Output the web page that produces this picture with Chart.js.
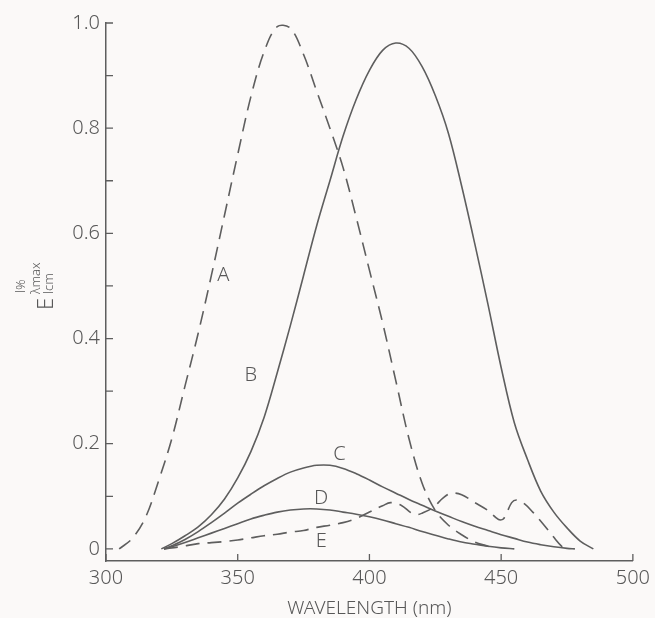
<!DOCTYPE html>
<html>
<head>
<meta charset="utf-8">
<script src="https://cdn.jsdelivr.net/npm/chart.js@4"></script>
<style>
  html, body { margin: 0; padding: 0; background: #fbf9f8; }
  #wrap { width: 655px; height: 618px; position: relative; }
</style>
</head>
<body>
<div id="wrap"><canvas id="chart"></canvas></div>
<script>
// curve A (dashed)
const wlA = [305, 310, 315, 320, 325, 330, 335, 340, 345, 350, 355, 360, 365, 370, 375, 380, 385, 390, 395, 400, 405, 410, 415, 420, 425, 430, 435, 440, 445, 448];
const valA = [0, 0.02, 0.06, 0.13, 0.21, 0.31, 0.41, 0.52, 0.635, 0.75, 0.86, 0.945, 0.993, 0.99, 0.94, 0.87, 0.80, 0.725, 0.63, 0.53, 0.43, 0.32, 0.21, 0.125, 0.073, 0.045, 0.027, 0.013, 0.005, 0];

// curve B (solid)
const wlB = [321, 325, 330, 335, 340, 345, 350, 355, 360, 365, 370, 375, 380, 385, 390, 395, 400, 405, 410, 415, 420, 425, 430, 435, 440, 445, 450, 455, 460, 465, 470, 475, 480, 485];
const valB = [0, 0.01, 0.025, 0.042, 0.065, 0.095, 0.135, 0.185, 0.25, 0.335, 0.425, 0.52, 0.615, 0.70, 0.785, 0.855, 0.91, 0.948, 0.962, 0.952, 0.917, 0.862, 0.79, 0.69, 0.58, 0.465, 0.345, 0.24, 0.17, 0.11, 0.07, 0.04, 0.015, 0];

// curve C (solid)
const wlC = [322, 325, 330, 335, 340, 345, 350, 355, 360, 365, 370, 375, 380, 385, 390, 395, 400, 405, 410, 415, 420, 425, 430, 435, 440, 445, 450, 455, 460, 465, 470, 475, 478];
const valC = [0, 0.006, 0.018, 0.033, 0.05, 0.068, 0.087, 0.104, 0.12, 0.134, 0.146, 0.154, 0.159, 0.159, 0.153, 0.143, 0.131, 0.118, 0.106, 0.094, 0.083, 0.072, 0.062, 0.052, 0.043, 0.035, 0.027, 0.02, 0.013, 0.008, 0.004, 0.001, 0];

// curve D (solid)
const wlD = [322, 325, 330, 335, 340, 345, 350, 355, 360, 365, 370, 375, 380, 385, 390, 395, 400, 405, 410, 415, 420, 425, 430, 435, 440, 445, 450, 455];
const valD = [0, 0.004, 0.012, 0.021, 0.03, 0.039, 0.048, 0.057, 0.064, 0.07, 0.074, 0.076, 0.076, 0.074, 0.07, 0.066, 0.061, 0.055, 0.048, 0.041, 0.033, 0.026, 0.019, 0.013, 0.009, 0.005, 0.002, 0];

// curve E (dashed)
const wlE = [322, 328, 335, 340, 345, 350, 355, 360, 365, 370, 375, 380, 385, 390, 395, 400, 405, 408, 412, 416, 418, 420, 424, 428, 431, 435, 440, 445, 449, 451, 454, 456, 459, 462, 466, 470, 473, 475];
const valE = [0, 0.004, 0.01, 0.012, 0.014, 0.017, 0.021, 0.025, 0.028, 0.032, 0.035, 0.041, 0.045, 0.05, 0.058, 0.07, 0.082, 0.088, 0.083, 0.068, 0.065, 0.068, 0.078, 0.097, 0.106, 0.103, 0.088, 0.073, 0.056, 0.058, 0.088, 0.093, 0.085, 0.07, 0.047, 0.022, 0.005, 0];

// curve labels
const curveNames = ['A', 'B', 'C', 'D', 'E'];
const curveLabelX = [344.5, 355, 388.6, 381.7, 381.7];
const curveLabelY = [0.52, 0.33, 0.18, 0.097, 0.015];

// axis ticks
const xTickValues = [300, 350, 400, 450, 500];
const yTickValues = [0, 0.1, 0.2, 0.3, 0.4, 0.5, 0.6, 0.7, 0.8, 0.9, 1.0];
const yTickLabels = ['0', '', '0.2', '', '0.4', '', '0.6', '', '0.8', '', '1.0'];

const ink = '#5e5e5e';
const textInk = '#585858';
const fontFamily = "'Noto Sans', 'DejaVu Sans', sans-serif";

function toPoints(xs, ys) {
    return xs.map((x, i) => ({ x: x, y: ys[i] }));
}

function makeSet(xs, ys, dashed) {
    return {
        data: toPoints(xs, ys),
        borderColor: ink,
        borderWidth: 1.6,
        borderDash: dashed ? [14, 8] : [],
        pointRadius: 0,
        tension: 0.35,
        fill: false
    };
}

// inward tick marks, curve letters and the y axis title
const extrasPlugin = {
    id: 'extras',
    afterDraw: (chart) => {
        const ctx = chart.ctx;
        const xs = chart.scales.x;
        const ys = chart.scales.y;
        ctx.save();
        ctx.strokeStyle = ink;
        ctx.lineWidth = 1.3;
        ctx.beginPath();
        xTickValues.forEach(v => {
            const px = xs.getPixelForValue(v);
            ctx.moveTo(px, xs.top);
            ctx.lineTo(px, xs.top - 7);
        });
        yTickValues.forEach(v => {
            const py = ys.getPixelForValue(v);
            ctx.moveTo(ys.right, py);
            ctx.lineTo(ys.right + 7, py);
        });
        ctx.stroke();

        // letters on the curves
        ctx.fillStyle = textInk;
        ctx.font = '300 20px ' + fontFamily;
        ctx.textAlign = 'center';
        ctx.textBaseline = 'middle';
        curveNames.forEach((name, i) => {
            ctx.fillText(name, xs.getPixelForValue(curveLabelX[i]), ys.getPixelForValue(curveLabelY[i]));
        });

        // rotated title E(1%, λmax, 1cm)
        ctx.translate(53, 310);
        ctx.rotate(-Math.PI / 2);
        ctx.textAlign = 'left';
        ctx.textBaseline = 'alphabetic';
        ctx.font = '300 22px ' + fontFamily;
        ctx.fillText('E', 0, 0);
        ctx.font = '300 13px ' + fontFamily;
        ctx.fillText('lcm', 16, 0);
        ctx.fillText('λmax', 16, -13);
        ctx.fillText('l%', 17, -28);
        ctx.restore();
    }
};

const config = {
    type: 'line',
    data: {
        datasets: [
            makeSet(wlA, valA, true),
            makeSet(wlB, valB, false),
            makeSet(wlC, valC, false),
            makeSet(wlD, valD, false),
            makeSet(wlE, valE, true)
        ]
    },
    options: {
        responsive: true,
        maintainAspectRatio: false,
        animation: false,
        layout: { padding: { top: 23, right: 21, bottom: 0, left: 0 } },
        plugins: {
            legend: { display: false },
            tooltip: { enabled: false }
        },
        scales: {
            x: {
                type: 'linear',
                min: 300,
                max: 500,
                afterBuildTicks: (scale) => {
                    scale.ticks = xTickValues.map(v => ({ value: v }));
                },
                afterFit: (scale) => { scale.height = 57; },
                ticks: {
                    color: textInk,
                    font: { family: fontFamily, size: 20, weight: '300' },
                    padding: 5,
                    maxRotation: 0
                },
                grid: { display: true, drawOnChartArea: false, drawTicks: false },
                border: { color: ink, width: 1.5 },
                title: {
                    display: true,
                    text: 'WAVELENGTH (nm)',
                    color: textInk,
                    font: { family: fontFamily, size: 19, weight: '300', lineHeight: 1.0 },
                    padding: { top: 0, bottom: 0 }
                }
            },
            y: {
                type: 'linear',
                min: -0.023,
                max: 1.0,
                afterBuildTicks: (scale) => {
                    scale.ticks = yTickValues.map(v => ({ value: v }));
                },
                afterFit: (scale) => { scale.width = 106; },
                ticks: {
                    color: textInk,
                    font: { family: fontFamily, size: 20, weight: '300' },
                    padding: 6,
                    callback: (value, index) => yTickLabels[index]
                },
                grid: { display: true, drawOnChartArea: false, drawTicks: false },
                border: { color: ink, width: 1.5 }
            }
        }
    },
    plugins: [extrasPlugin]
};

new Chart(document.getElementById('chart').getContext('2d'), config);
</script>
</body>
</html>
